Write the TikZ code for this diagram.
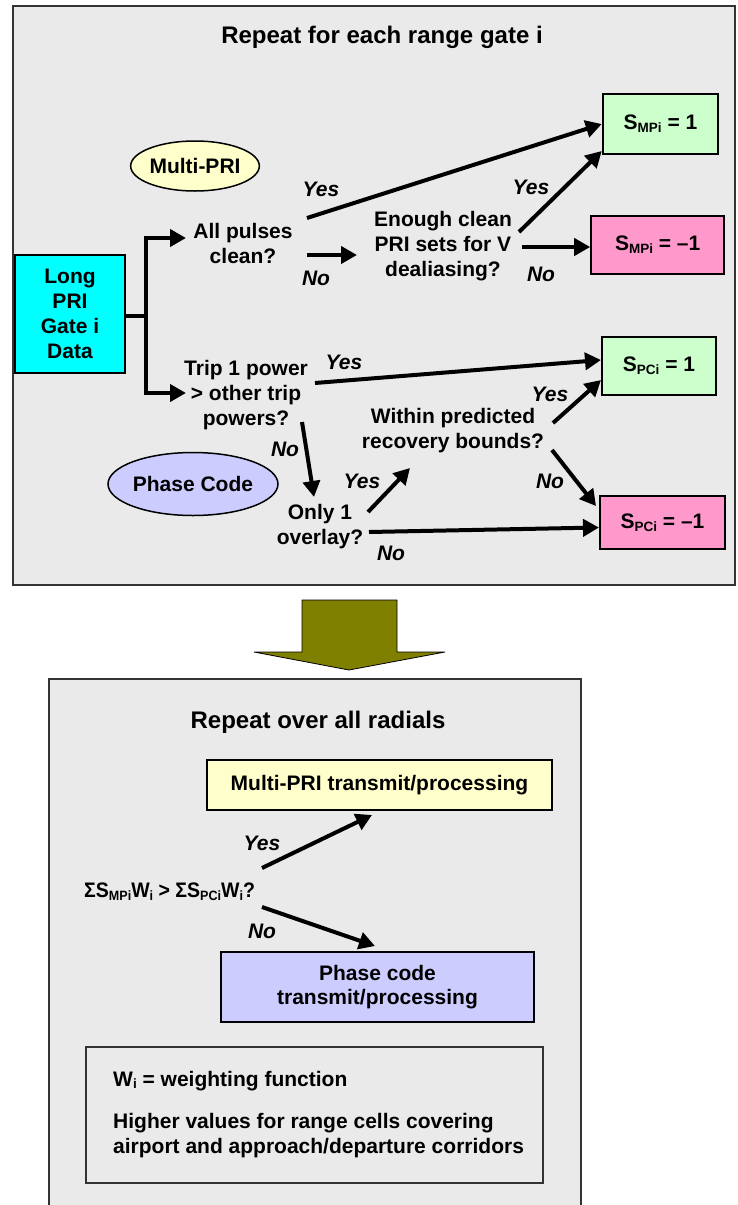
\documentclass[tikz,border=0pt]{standalone}
\usepackage{fontspec}
\setmainfont{Liberation Sans}
\usetikzlibrary{arrows.meta,calc,shapes.geometric}

\definecolor{panelgray}{HTML}{EAEAEA}
\definecolor{paleyellow}{HTML}{FFFFCC}
\definecolor{palegreen}{HTML}{CCFFCC}
\definecolor{rosepink}{HTML}{FF99CC}
\definecolor{lavender}{HTML}{CCCCFF}
\definecolor{aqua}{HTML}{00FFFF}
\definecolor{olivebrown}{HTML}{808000}

% small lowered index used in S_MPi, S_PCi, W_i
\newcommand\lowsub[1]{\raisebox{-0.13em}{\fontsize{13.5pt}{13.5pt}\selectfont #1}}

\begin{document}
\begin{tikzpicture}[x=1pt,y=-1pt,
  every node/.style={font=\fontsize{21pt}{25pt}\selectfont\bfseries},
  txt/.style={align=center, inner sep=0pt},
  heading/.style={font=\fontsize{24pt}{28pt}\selectfont\bfseries, inner sep=0pt, anchor=base},
  lbl/.style={font=\fontsize{21pt}{25pt}\selectfont\bfseries\itshape, inner sep=0pt},
  panel/.style={draw=black!80, line width=1.6pt, fill=panelgray, inner sep=0pt},
  resbox/.style={draw=black, line width=2pt, inner sep=0pt, align=center},
  oval/.style={ellipse, draw=black, line width=1.5pt, inner sep=0pt},
  arr/.style={line width=4pt, -{Triangle[length=16pt,width=17pt]}},
  link/.style={line width=4pt},
]
\useasboundingbox (0,0) rectangle (737,1205);
\fill[white] (0,0) rectangle (737,1205);

% ---------- upper panel: per range gate ----------
\node[panel, minimum width=722pt, minimum height=579pt] (gatepanel) at (374,295.5) {};
\node[heading] (title1) at (382,43.3) {Repeat for each range gate i};

\node[oval, fill=paleyellow, minimum width=126pt, minimum height=50pt] (mpri) at (195,166) {Multi-PRI};
\node[oval, fill=lavender, minimum width=145pt, minimum height=63pt] (pcode) at (193,484) {Phase Code};

\node[resbox, fill=aqua, minimum width=110pt, minimum height=118pt] (long) at (70,314) {Long\\PRI\\Gate i\\Data};

\node[resbox, fill=palegreen, minimum width=115.5pt, minimum height=60pt] (smp1) at (660.5,124) {S\lowsub{MPi} = 1};
\node[resbox, fill=rosepink, minimum width=133pt, minimum height=58pt] (smm1) at (657.7,245) {S\lowsub{MPi} = \textendash1};
\node[resbox, fill=palegreen, minimum width=114pt, minimum height=58pt] (spc1) at (659,366) {S\lowsub{PCi} = 1};
\node[resbox, fill=rosepink, minimum width=125pt, minimum height=53pt] (spcm1) at (662.5,522.5) {S\lowsub{PCi} = \textendash1};

\node[txt] (allp) at (243,243) {All pulses\\clean?};
\node[txt] (enough) at (443,246) {Enough clean\\PRI sets for V\\dealiasing?};
\node[txt] (trip) at (246,395) {Trip 1 power\\> other trip\\powers?};
\node[txt] (within) at (453,431) {Within predicted\\recovery bounds?};
\node[txt] (only) at (320,527) {Only 1\\overlay?};

\node[lbl] (yes1) at (321,189) {Yes};
\node[lbl] (no1) at (316,278) {No};
\node[lbl] (yes2) at (531,187) {Yes};
\node[lbl] (no2) at (541,274) {No};
\node[lbl] (yes3) at (344,362) {Yes};
\node[lbl] (yes4) at (550,394) {Yes};
\node[lbl] (no3) at (285,449) {No};
\node[lbl] (yes5) at (362,481) {Yes};
\node[lbl] (no4) at (550,481) {No};
\node[lbl] (no5) at (391,553) {No};

% connector end points next to the question texts
\coordinate (j) at (146,316);
\coordinate (allpin) at (186,238);
\coordinate (tripin) at (186,393);
\coordinate (a1s) at (307,218);
\coordinate (a2s) at (307,255);
\coordinate (a2e) at (357,255);
\coordinate (a3s) at (519,232);
\coordinate (a4s) at (522,247);
\coordinate (a5s) at (315,383);
\coordinate (a6s) at (302,422);
\coordinate (a6e) at (314,497);
\coordinate (a7s) at (368,512);
\coordinate (a7e) at (410,468);
\coordinate (a8s) at (553,423);
\coordinate (a9s) at (552,450);
\coordinate (a10s) at (369,532);

\draw[link] (long.east |- j) -- (j);
\draw[arr] (j) |- (allpin);
\draw[arr] (j) |- (tripin);
\draw[arr] (a1s) -- (smp1.west);
\draw[arr] (a2s) -- (a2e);
\draw[arr] (a3s) -- ([yshift=4pt]smp1.south west);
\draw[arr] (a4s) -- ([yshift=-2pt]smm1.west);
\draw[arr] (a5s) -- ([yshift=6pt]spc1.west);
\draw[arr] (a6s) -- (a6e);
\draw[arr] (a7s) -- (a7e);
\draw[arr] (a8s) -- ([yshift=16pt]spc1.south west);
\draw[arr] (a9s) -- ($(spcm1.north west)+(-3,11)$);
\draw[arr] (a10s) -- ([yshift=-5pt]spcm1.west);

% ---------- block arrow between the panels ----------
\filldraw[fill=olivebrown, draw=black, line width=0.8pt]
  (302,600) -- (397,600) -- (397,652) -- (445,652) -- (349,670)
  -- (254,652) -- (302,652) -- cycle;

% ---------- lower panel: per radial ----------
\node[panel, minimum width=532pt, minimum height=536pt] (radpanel) at (315,947) {};
\node[heading] (title2) at (318,728.3) {Repeat over all radials};

\node[resbox, fill=paleyellow, minimum width=345pt, minimum height=50pt] (mpt) at (379.5,785) {Multi-PRI transmit/processing};
\node[anchor=base west, inner sep=0pt] (sigma) at (84,897.3) {\scalebox{0.93}[1]{ΣS\lowsub{MPi}W\lowsub{i} > ΣS\lowsub{PCi}W\lowsub{i}?}};
\node[resbox, fill=lavender, minimum width=313.6pt, minimum height=70pt] (pct) at (377.5,986.7) {Phase code\\[-1pt]transmit/processing};

\node[lbl] (yes6) at (262,843) {Yes};
\node[lbl] (no6) at (262,931) {No};

\coordinate (b1s) at (262,868);
\coordinate (b1e) at (372,815);
\coordinate (b2s) at (262,907);
\coordinate (b2e) at (375,946);
\draw[arr] (b1s) -- (b1e);
\draw[arr] (b2s) -- (b2e);

\node[panel, minimum width=457pt, minimum height=136pt] (wbox) at (314.5,1115) {};
\node[anchor=base west, inner sep=0pt] (wdef) at (113,1086) {W\lowsub{i} = weighting function};
\node[anchor=base west, inner sep=0pt] (wnote1) at (113,1128) {Higher values for range cells covering};
\node[anchor=base west, inner sep=0pt] (wnote2) at (113,1153) {airport and approach/departure corridors};
\end{tikzpicture}
\end{document}
